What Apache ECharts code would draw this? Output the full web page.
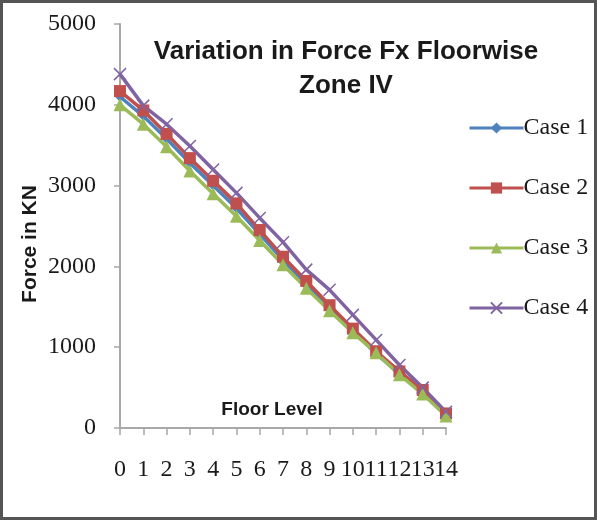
<!DOCTYPE html>
<html>
<head>
<meta charset="utf-8">
<script src="https://cdn.jsdelivr.net/npm/echarts@6/dist/echarts.min.js"></script>
<style>
html,body{margin:0;padding:0;background:#fff;}
#c{width:597px;height:520px;}
</style>
</head>
<body>
<div id="c"></div>
<script>
const floors = ['0','1','2','3','4','5','6','7','8','9','10','11','12','13','14'];
const case1 = [4100, 3860, 3580, 3280, 3000, 2720, 2400, 2080, 1780, 1480, 1200, 920, 670, 440, 170];
const case2 = [4170, 3930, 3640, 3340, 3060, 2780, 2450, 2120, 1820, 1520, 1230, 950, 700, 470, 180];
const case3 = [4000, 3760, 3480, 3180, 2900, 2620, 2320, 2020, 1730, 1450, 1180, 930, 660, 420, 150];
const case4 = [4380, 3990, 3760, 3490, 3200, 2910, 2600, 2300, 1960, 1710, 1400, 1090, 780, 500, 200];
const yTicks = [0, 1000, 2000, 3000, 4000, 5000];

const serif = '"Liberation Serif", "Times New Roman", serif';
const sans = '"Liberation Sans", Arial, sans-serif';

const chart = echarts.init(document.getElementById('c'));

function mk(name, data, color, symbol, size, extra) {
  return Object.assign({
    name: name, type: 'line', data: data,
    symbol: symbol, symbolSize: size, showSymbol: true,
    lineStyle: {color: color, width: 3.5},
    itemStyle: {color: color},
    animation: false
  }, extra || {});
}

chart.setOption({
  backgroundColor: '#fff',
  animation: false,
  title: {
    text: 'Variation in Force Fx Floorwise\nZone IV',
    left: 341, top: 30, textAlign: 'center',
    textStyle: {fontFamily: sans, fontWeight: 'bold', fontSize: 26, lineHeight: 34, color: '#1a1a1a'}
  },
  legend: {
    orient: 'vertical', left: 463, top: 111,
    itemWidth: 54, itemHeight: 14, itemGap: 36,
    lineStyle: {width: 3},
    textStyle: {fontFamily: serif, fontSize: 24, lineHeight: 24, color: '#1a1a1a', padding: [0,0,0,-5]},
    data: ['Case 1','Case 2','Case 3','Case 4']
  },
  grid: {left: 120, right: 151, top: 24, bottom: 92, containLabel: false},
  xAxis: {
    type: 'category', data: floors, boundaryGap: false,
    axisLine: {lineStyle: {color: '#a8a8a8', width: 2}},
    axisTick: {show: true, alignWithLabel: true, length: 7, lineStyle: {color: '#a8a8a8', width: 1.5}},
    axisLabel: {fontFamily: serif, fontSize: 24, color: '#1a1a1a', margin: 30, interval: 0}
  },
  yAxis: {
    type: 'value', min: yTicks[0], max: yTicks[yTicks.length-1], interval: 1000,
    axisLine: {show: true, lineStyle: {color: '#a8a8a8', width: 2}},
    axisTick: {show: true, length: 6, lineStyle: {color: '#a8a8a8', width: 1.5}},
    splitLine: {show: false},
    axisLabel: {fontFamily: serif, fontSize: 24, color: '#1a1a1a', margin: 24, formatter: function (v) { return String(v); }}
  },
  graphic: [
    {type: 'rect', shape: {x: 1.5, y: 1.5, width: 594, height: 517}, style: {fill: 'none', stroke: '#555', lineWidth: 3}, z: 100},
    {type: 'text', x: 30, y: 244, rotation: Math.PI/2, style: {text: 'Force in KN', fontFamily: sans, fontWeight: 'bold', fontSize: 21, fill: '#1a1a1a', align: 'center', verticalAlign: 'middle'}},
    {type: 'text', x: 272, y: 410, style: {text: 'Floor Level', fontFamily: sans, fontWeight: 'bold', fontSize: 19, fill: '#1a1a1a', align: 'center', verticalAlign: 'middle'}}
  ],
  series: [
    mk('Case 1', case1, '#4F81BD', 'diamond', 10),
    mk('Case 2', case2, '#C0504D', 'rect', 12),
    mk('Case 3', case3, '#9BBB59', 'triangle', 13),
    mk('Case 4', case4, '#8064A2', 'path://M0,0L10,10M10,0L0,10', 12,
       {itemStyle: {color: '#8064A2', borderColor: '#8064A2', borderWidth: 1.5}})
  ]
});
</script>
</body>
</html>
